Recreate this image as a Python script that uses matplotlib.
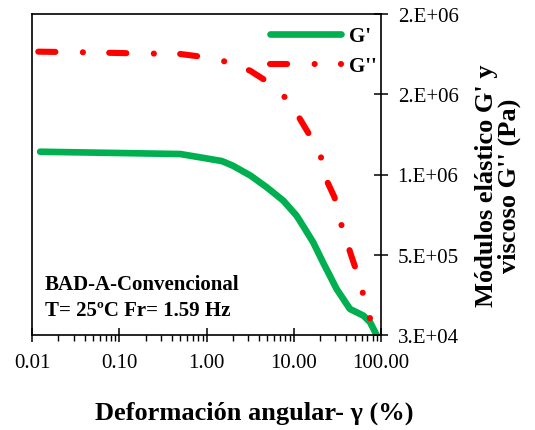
import numpy as np
import matplotlib
matplotlib.use("Agg")
import matplotlib.pyplot as plt
from matplotlib.ticker import FuncFormatter, LogLocator, NullFormatter

plt.rcParams['font.family'] = ['Liberation Serif', 'DejaVu Serif']

# datos
deform_g1 = [0.0124, 0.50, 0.84, 1.5, 2.0, 3.2, 4.9, 7.6, 10.8, 13, 16.7, 21.8, 31, 44, 63, 75, 89]
g_elastico = [1.149e6, 1.135e6, 1.115e6, 1.092e6, 1.064e6, 1.003e6, 0.932e6, 0.85e6, 0.758e6,
              0.69e6, 0.596e6, 0.47e6, 0.311e6, 0.189e6, 0.148e6, 0.108e6, 0.03e6]

deform_g2 = [0.0118, 0.0412, 0.145, 0.497, 0.88, 1.67, 3.16, 4.9, 7.94, 11.6, 15.1, 20.4, 23.4,
             29.3, 33.5, 40.7, 47.7, 57.4, 65.6, 74.8]
g_viscoso = [1.760e6, 1.756e6, 1.750e6, 1.746e6, 1.729e6, 1.699e6, 1.644e6, 1.579e6, 1.481e6,
             1.355e6, 1.253e6, 1.121e6, 0.983e6, 0.871e6, 0.738e6, 0.596e6, 0.484e6, 0.358e6,
             0.23e6, 0.132e6]

yticks = [3e4, 5.2e5, 1.01e6, 1.5e6, 1.99e6]

fig = plt.figure(figsize=(5.35, 4.31), dpi=100)
ax = fig.add_axes([32/535, 1-336/431, (381-32)/535, (336-15)/431])

ax.plot(deform_g1, g_elastico, color='#00B050', lw=4.8, solid_capstyle='round',
        solid_joinstyle='round', label="G'")
ax.plot(deform_g2, g_viscoso, color='#FF0000', lw=4.4, dashes=[2.8, 4.5, 0.01, 4.3],
        dash_capstyle='round', label="G''")

ax.set_xscale('log')
ax.set_xlim(0.01, 100)
ax.set_ylim(3e4, 1.99e6)

ax.xaxis.set_major_formatter(FuncFormatter(lambda v, p: f"{v:.2f}"))
ax.xaxis.set_minor_locator(LogLocator(base=10, subs=np.arange(2, 10)))
ax.xaxis.set_minor_formatter(NullFormatter())


def fmt_e(v, p):
    m, e = f"{v:.0E}".split("E")
    return f"{m}.E{e}"


ax.yaxis.tick_right()
ax.set_yticks(yticks)
ax.yaxis.set_major_formatter(FuncFormatter(fmt_e))

ax.tick_params(axis='x', which='major', direction='inout', length=10, width=1.1, labelsize=15, pad=8)
ax.tick_params(axis='x', which='minor', direction='out', length=4, width=1)
ax.tick_params(axis='y', which='major', direction='inout', length=10, width=1.1, labelsize=15, pad=7)
for s in ax.spines.values():
    s.set_linewidth(1.2)

leg = ax.legend(loc='upper right', bbox_to_anchor=(377/535, 1-27/431), bbox_transform=fig.transFigure,
                frameon=False, prop={'weight': 'bold', 'size': 15}, handlelength=3.4,
                handletextpad=0.4, labelspacing=0.5, borderpad=0, borderaxespad=0)

ax.text(45/535, 1-298/431, "BAD-A-Convencional\nT= 25ºC Fr= 1.59 Hz", transform=fig.transFigure,
        fontsize=15, fontweight='bold', ha='left', va='center', linespacing=1.45)

fig.text(254/535, 1-413/431, "Deformación angular- γ (%)", fontsize=19, fontweight='bold',
         ha='center', va='center')
fig.text(498/535, 1-186/431, "Módulos elástico G' y\nviscoso G'' (Pa)", fontsize=19, fontweight='bold',
         ha='center', va='center', rotation=90, multialignment='center', linespacing=1.0)

fig.savefig('out.png', dpi=100)
